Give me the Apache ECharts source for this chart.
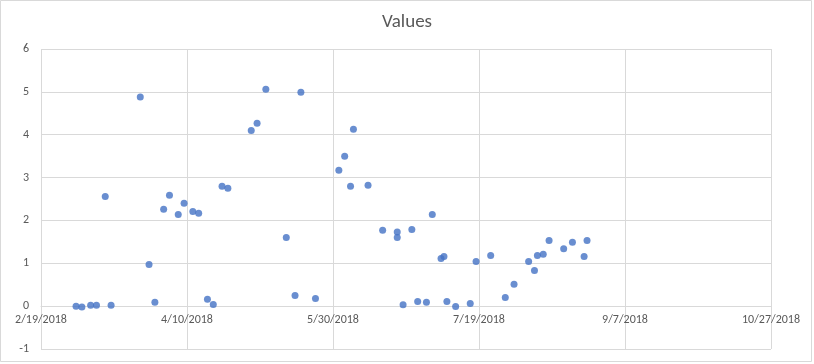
<!DOCTYPE html>
<html>
<head>
<meta charset="utf-8">
<script src="https://cdn.jsdelivr.net/npm/echarts@6/dist/echarts.min.js"></script>
<style>
html,body{margin:0;padding:0;background:#fff;}
#c{width:814px;height:364px;}
</style>
</head>
<body>
<div id="c"></div>
<script>
const chartTitle = "Values";
const startDate = "2018-02-19";
const endDate = "2018-10-27";
const tickDays = 50;
const dates = [
  "2018-03-03","2018-03-05","2018-03-08","2018-03-10","2018-03-13","2018-03-15",
  "2018-03-25","2018-03-28","2018-03-30","2018-04-02","2018-04-04","2018-04-07",
  "2018-04-09","2018-04-12","2018-04-14","2018-04-17","2018-04-19","2018-04-22",
  "2018-04-24","2018-05-02","2018-05-04","2018-05-07","2018-05-14","2018-05-17",
  "2018-05-19","2018-05-24","2018-06-01","2018-06-03","2018-06-05","2018-06-06",
  "2018-06-11","2018-06-16","2018-06-21","2018-06-21","2018-06-23","2018-06-26",
  "2018-06-28","2018-07-01","2018-07-03","2018-07-06","2018-07-07","2018-07-08",
  "2018-07-11","2018-07-16","2018-07-18","2018-07-23","2018-07-28","2018-07-31",
  "2018-08-05","2018-08-07","2018-08-08","2018-08-10","2018-08-12","2018-08-17",
  "2018-08-20","2018-08-24","2018-08-25"
];
const values = [
  0.00,-0.02,0.02,0.02,2.56,0.02,
  4.88,0.97,0.09,2.26,2.59,2.14,
  2.40,2.21,2.17,0.16,0.04,2.80,
  2.75,4.10,4.27,5.06,1.60,0.25,
  4.99,0.18,3.17,3.50,2.80,4.13,
  2.82,1.77,1.73,1.60,0.03,1.79,
  0.11,0.09,2.14,1.11,1.16,0.11,
  -0.01,0.06,1.04,1.18,0.20,0.51,
  1.04,0.83,1.18,1.21,1.53,1.34,
  1.49,1.16,1.53
];

const DAY = 86400000;
const t0 = Date.parse(startDate + "T00:00:00Z");
const dayOf = s => Math.round((Date.parse(s + "T00:00:00Z") - t0) / DAY);
const maxDay = dayOf(endDate);
const fmt = d => {
  const dt = new Date(t0 + d * DAY);
  return (dt.getUTCMonth() + 1) + "/" + dt.getUTCDate() + "/" + dt.getUTCFullYear();
};
const pts = dates.map((d, i) => [dayOf(d), values[i]]);

const chart = echarts.init(document.getElementById('c'), null, {renderer: 'canvas'});
const font = "Calibri, Carlito, 'Liberation Sans', sans-serif";
const gridTop = 49, gridBottom = 15, yMin = -1, yMax = 6;
const plotH = 364 - gridTop - gridBottom;
const zeroOffset = -Math.round((0 - yMin) / (yMax - yMin) * plotH);
chart.setOption({
  animation: false,
  backgroundColor: '#fff',
  title: {
    text: chartTitle, left: 'center', top: 8,
    textStyle: {fontFamily: font, fontSize: 19, fontWeight: 'normal', color: '#595959'}
  },
  graphic: [{
    type: 'rect', silent: true,
    shape: {x: 0.5, y: 0.5, width: 811, height: 361},
    style: {fill: 'none', stroke: '#d9d9d9', lineWidth: 1}
  }],
  grid: {left: 41, right: 43, top: gridTop, bottom: gridBottom, containLabel: false, outerBoundsMode: 'none'},
  xAxis: {
    type: 'value', min: 0, max: maxDay, interval: tickDays,
    offset: zeroOffset,
    axisLine: {show: true, onZero: false, lineStyle: {color: '#d9d9d9'}},
    axisTick: {show: false},
    splitLine: {show: true, lineStyle: {color: '#d9d9d9'}},
    axisLabel: {
      formatter: v => fmt(v), color: '#595959', fontFamily: font, fontSize: 12, margin: 8
    }
  },
  yAxis: {
    type: 'value', min: yMin, max: yMax, interval: 1,
    axisLine: {show: false},
    axisTick: {show: false},
    splitLine: {show: true, lineStyle: {color: '#d9d9d9'}},
    axisLabel: {color: '#595959', fontFamily: font, fontSize: 12, margin: 12}
  },
  series: [{
    type: 'scatter', data: pts, symbol: 'circle', symbolSize: 7,
    itemStyle: {color: '#4472C4'}
  }]
});
</script>
</body>
</html>
